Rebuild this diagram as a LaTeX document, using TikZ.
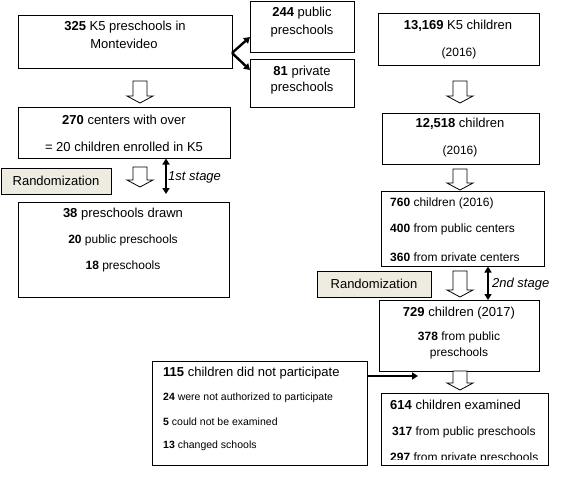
\documentclass[tikz,border=0pt]{standalone}
\usepackage{fontspec}
\setmainfont{Liberation Sans}
\usetikzlibrary{arrows.meta}

\definecolor{randfill}{RGB}{238,236,225}

\tikzset{
  box/.style={draw, line width=0.8pt, inner sep=0pt},
  randbox/.style={box, fill=randfill, font=\fontsize{13}{15}\selectfont},
  txt/.style={inner sep=0pt, font=\fontsize{13}{15}\selectfont},
  subtxt/.style={inner sep=0pt, font=\fontsize{12}{14}\selectfont},
  smalltxt/.style={inner sep=0pt, font=\fontsize{10.5}{12}\selectfont},
  link/.style={line width=2.4pt, -{Triangle[length=6pt,width=7pt]}},
  stagearrow/.style={line width=2.4pt,
    {Triangle[length=6pt,width=7pt]}-{Triangle[length=6pt,width=7pt]}},
  pics/hollow/.style={code={
    \draw[line width=0.8pt, fill=white] (-7,0) -- (7,0) -- (7,#1-7) -- (13,#1-7)
      -- (0,#1) -- (-13,#1-7) -- (-7,#1-7) -- cycle;}}
}

\begin{document}
\begin{tikzpicture}[x=1pt, y=-1pt]
  \useasboundingbox (0,0) rectangle (580,476);

  % ---- left column: preschools ----
  \node[box, minimum width=214, minimum height=53] (b325) at (125,41.5) {};
  \node[txt] (t325) at (125,27) {\textbf{325} K5 preschools in};
  \node[txt] (tmont) at (124,44) {Montevideo};

  \node[box, minimum width=104, minimum height=51] (bpub) at (302,26.5) {};
  \node[txt] (tpub) at (302,13) {\textbf{244} public};
  \node[txt] (tpubb) at (302,31) {preschools};

  \node[box, minimum width=104, minimum height=48] (bpriv) at (302,83) {};
  \node[txt] (tpriv) at (302,72) {\textbf{81} private};
  \node[txt] (tprivb) at (302,88) {preschools};

  % split into public / private
  \coordinate (split) at (232,53);
  \coordinate (pubtip) at (250,37);
  \coordinate (privtip) at (250,70);
  \draw[link] (split) -- (pubtip);
  \draw[link] (split) -- (privtip);

  \pic at (140,81) {hollow=22};

  \node[box, minimum width=212, minimum height=51] (b270) at (124,132.5) {};
  \node[txt] (t270) at (124,120) {\textbf{270} centers with over};
  \node[txt] (t270b) at (124,147) {= 20 children enrolled in K5};

  % first randomization stage
  \node[randbox, minimum width=110, minimum height=26] (rand1) at (56,181) {Randomization};
  \pic at (140,167) {hollow=20};
  \coordinate (s1top) at (166,158.5);
  \coordinate (s1bot) at (166,194);
  \draw[stagearrow] (s1top) -- (s1bot);
  \node[txt, anchor=west] (stage1) at (168,177) {\textit{1st stage}};

  \node[box, minimum width=211, minimum height=95] (b38) at (123.5,249.5) {};
  \node[txt] (t38) at (123,214) {\textbf{38} preschools drawn};
  \node[subtxt] (t20) at (123,240) {\textbf{20} public preschools};
  \node[subtxt] (t18) at (123,266) {\textbf{18} preschools};

  % ---- right column: children ----
  \node[box, minimum width=161, minimum height=52] (b13169) at (458.5,39) {};
  \node[txt] (t13169) at (458,26) {\textbf{13,169} K5 children};
  \node[subtxt] (ya) at (459,53) {(2016)};

  \pic at (460,81) {hollow=22};

  \node[box, minimum width=157, minimum height=51] (b12518) at (460.5,138.5) {};
  \node[txt] (t12518) at (460,124) {\textbf{12,518} children};
  \node[subtxt] (yb) at (460,151) {(2016)};

  \pic at (460,169) {hollow=21};

  % text cut off above the lower edge, as in the source
  \node[box, minimum width=163, minimum height=75] (b760) at (462.5,228.5) {};
  \begin{scope}
    \clip (b760.north west) rectangle ([yshift=5.5pt]b760.south east);
    \node[subtxt, anchor=west] (t760) at (390,203) {\textbf{760} children (2016)};
    \node[subtxt, anchor=west] (t400) at (390,229) {\textbf{400} from public centers};
    \node[subtxt, anchor=base west] (t360) at (390,261.5) {\textbf{360} from private centers};
  \end{scope}

  % second randomization stage
  \node[randbox, minimum width=114, minimum height=26] (rand2) at (374,284) {Randomization};
  \pic at (460,271) {hollow=26};
  \coordinate (s2top) at (488,266.5);
  \coordinate (s2bot) at (488,300);
  \draw[stagearrow] (s2top) -- (s2bot);
  \node[txt, anchor=west] (stage2) at (492,284) {\textit{2nd stage}};

  \node[box, minimum width=160, minimum height=71] (b729) at (459,335.5) {};
  \node[txt] (t729) at (459,313) {\textbf{729} children (2017)};
  \node[subtxt] (t378) at (459,337) {\textbf{378} from public};
  \node[subtxt] (t378b) at (459,353) {preschools};

  % ---- drop-outs ----
  \node[box, minimum width=215, minimum height=104] (b115) at (259.5,413) {};
  \node[txt, anchor=west] (t115) at (163,373) {\textbf{115} children did not participate};
  \node[smalltxt, anchor=west] (t24) at (163,398) {\textbf{24} were not authorized to participate};
  \node[smalltxt, anchor=west] (t5) at (163,422) {\textbf{5} could not be examined};
  \node[smalltxt, anchor=west] (t13) at (163,446) {\textbf{13} changed schools};

  \coordinate (dropin) at (418,376);
  \draw[link] (b115.east |- dropin) -- (dropin);

  \pic at (460,371) {hollow=19};

  \node[box, minimum width=167, minimum height=72] (b614) at (464.5,429) {};
  \begin{scope}
    \clip (b614.north west) rectangle ([yshift=5.5pt]b614.south east);
    \node[txt, anchor=west] (t614) at (390,405) {\textbf{614} children examined};
    \node[subtxt, anchor=west] (t317) at (392,432) {\textbf{317} from public preschools};
    \node[subtxt, anchor=base west] (t297) at (390,461) {\textbf{297} from private preschools};
  \end{scope}

\end{tikzpicture}
\end{document}
